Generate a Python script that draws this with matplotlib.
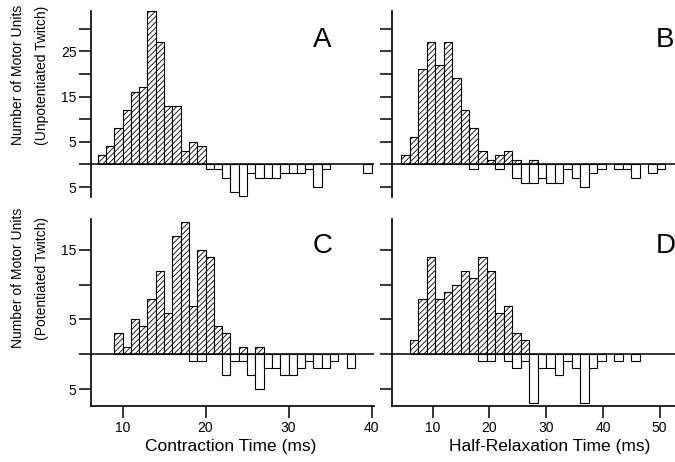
import matplotlib
matplotlib.use("Agg")
import matplotlib.pyplot as plt
import numpy as np

plt.rcParams['font.family'] = ['Liberation Sans', 'DejaVu Sans']
plt.rcParams['hatch.linewidth'] = 0.6

# contraction time histograms, 1 ms bins, left edges 7..39 ms
ct_left = np.arange(7, 40)
a_pos = [2, 4, 8, 12, 16, 17, 34, 27, 13, 13, 3, 5, 4,
         0, 0, 0, 0, 0, 0, 0, 0, 0, 0, 0, 0, 0, 0, 0, 0, 0, 0, 0, 0]
a_neg = [0, 0, 0, 0, 0, 0, 0, 0, 0, 0, 0, 0, 0,
         1, 1, 3, 6, 7, 2, 3, 3, 3, 2, 2, 2, 1, 5, 1, 0, 0, 0, 0, 2]
c_pos = [0, 0, 3, 1, 5, 4, 8, 12, 6, 17, 19, 7, 15, 14, 4, 3, 0, 1, 0, 1,
         0, 0, 0, 0, 0, 0, 0, 0, 0, 0, 0, 0, 0]
c_neg = [0, 0, 0, 0, 0, 0, 0, 0, 0, 0, 0,
         1, 1, 0, 0, 3, 1, 1, 3, 5, 2, 2, 3, 3, 2, 1, 2, 2, 1, 0, 2, 0, 0]

# half-relaxation time histograms, 1.5 ms bins, left edges from 4.5 ms
hr_left = 4.5 + 1.5 * np.arange(32)
b_pos = [2, 6, 21, 27, 22, 27, 19, 12, 8, 3, 1, 2, 3, 1, 0, 1,
         0, 0, 0, 0, 0, 0, 0, 0, 0, 0, 0, 0, 0, 0, 0, 0]
b_neg = [0, 0, 0, 0, 0, 0, 0, 0, 1, 0, 0, 1, 0, 3, 4, 4,
         3, 4, 4, 1, 3, 5, 2, 1, 0, 1, 1, 3, 0, 2, 1, 0]
d_pos = [0, 2, 8, 14, 8, 9, 10, 12, 11, 14, 12, 6, 7, 3, 2, 0,
         0, 0, 0, 0, 0, 0, 0, 0, 0, 0, 0, 0, 0, 0, 0, 0]
d_neg = [0, 0, 0, 0, 0, 0, 0, 0, 0, 1, 1, 0, 1, 2, 1, 7,
         2, 2, 3, 1, 2, 7, 2, 1, 0, 1, 0, 1, 0, 0, 0, 0]

W, H = 675, 462
fig = plt.figure(figsize=(W / 100, H / 100), dpi=100)


def add_ax(l, t, r, b):
    return fig.add_axes([l / W, 1 - b / H, (r - l) / W, (b - t) / H])


def hist_panel(ax, left, width, pos, neg, xlim, ylim, yticks, ylabels, xticks):
    pos = np.array(pos)
    neg = np.array(neg)
    m = pos > 0
    ax.bar(left[m], pos[m], width=width, align='edge', facecolor='white',
           edgecolor='black', hatch='//////', linewidth=0.8, clip_on=False, zorder=2)
    m = neg > 0
    ax.bar(left[m], -neg[m], width=width, align='edge', facecolor='white',
           edgecolor='black', linewidth=0.8, clip_on=False, zorder=2)
    ax.axhline(0, color='black', lw=1.1, zorder=3)
    ax.set_xlim(*xlim)
    ax.set_ylim(*ylim)
    for s in ['top', 'right']:
        ax.spines[s].set_visible(False)
    ax.spines['left'].set_linewidth(1.2)
    ax.set_yticks(yticks)
    ax.set_yticklabels(ylabels)
    if xticks is None:
        ax.spines['bottom'].set_visible(False)
        ax.set_xticks([])
    else:
        ax.spines['bottom'].set_linewidth(1.2)
        ax.set_xticks(xticks)
        ax.set_xticklabels([str(t) for t in xticks])
    ax.tick_params(direction='out', length=8.5, width=1.1, labelsize=10, pad=2)
    ax.patch.set_alpha(0)


top_ticks = [-5, 0, 5, 10, 15, 20, 25, 30]
top_labels = ['5', '', '5', '', '15', '', '25', '']
bot_ticks = [-5, 0, 5, 10, 15]
bot_labels = ['5', '', '5', '', '15']

axA = add_ax(91, 11, 374, 197)
axB = add_ax(392, 11, 675, 197)
axC = add_ax(91, 219, 374, 406)
axD = add_ax(392, 219, 675, 406)

ct_lim = (6.2, 40.3)
hr_lim = (2.85, 52.7)
hist_panel(axA, ct_left, 1.0, a_pos, a_neg, ct_lim, (-7.2, 33.9),
           top_ticks, top_labels, None)
hist_panel(axB, hr_left, 1.5, b_pos, b_neg, hr_lim, (-7.2, 33.9),
           top_ticks, [''] * len(top_ticks), None)
hist_panel(axC, ct_left, 1.0, c_pos, c_neg, ct_lim, (-7.4, 19.4),
           bot_ticks, bot_labels, [10, 20, 30, 40])
hist_panel(axD, hr_left, 1.5, d_pos, d_neg, hr_lim, (-7.4, 19.4),
           bot_ticks, [''] * len(bot_ticks), [10, 20, 30, 40, 50])

# panel letters
for letter, x, y in [('A', 313, 47), ('B', 656, 47), ('C', 313, 253), ('D', 656, 253)]:
    fig.text(x / W, 1 - y / H, letter, fontsize=20, ha='left', va='baseline')

# y axis titles
for yc, second in [(75, '(Unpotentiated Twitch)'), (278, '(Potentiated Twitch)')]:
    fig.text(18 / W, 1 - yc / H, 'Number of Motor Units', rotation=90,
             fontsize=10, ha='center', va='center')
    fig.text(42 / W, 1 - yc / H, second, rotation=90,
             fontsize=10, ha='center', va='center')

fig.text(231 / W, 1 - 447 / H, 'Contraction Time (ms)', fontsize=12.5,
         ha='center', va='center')
fig.text(550 / W, 1 - 447 / H, 'Half-Relaxation Time (ms)', fontsize=12.5,
         ha='center', va='center')

fig.savefig('out.png', dpi=100)
